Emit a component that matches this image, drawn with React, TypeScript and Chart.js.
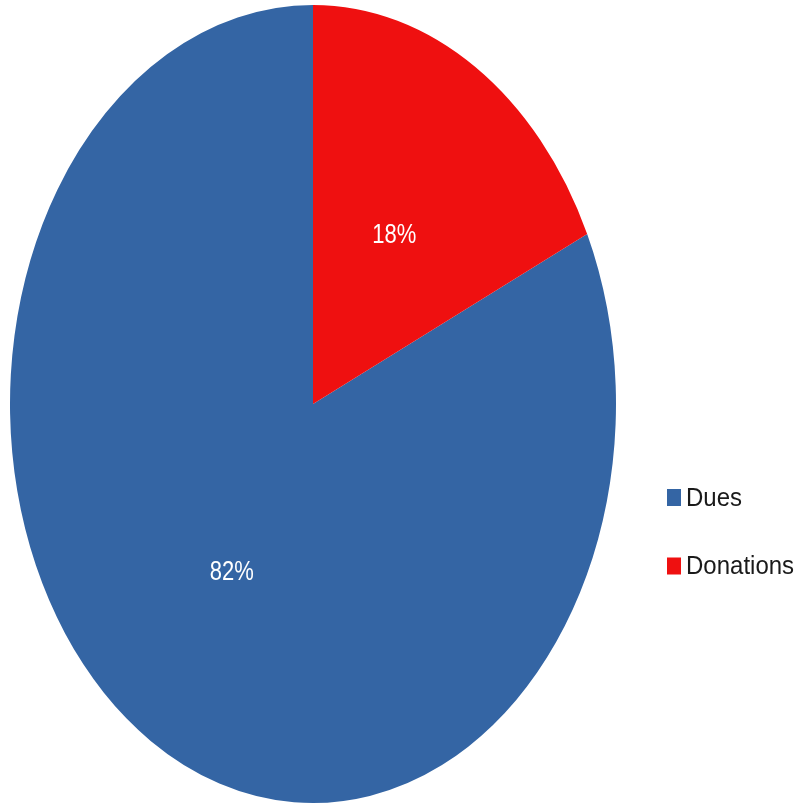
import React, { useEffect, useRef } from "react";
import { Chart, registerables } from "chart.js";

Chart.register(...registerables);

const categories = ["Dues", "Donations"];
const values = [82, 18];
const colors = ["#3465a4", "#ef1010"];
const valueLabels = ["82%", "18%"];

const K = 1.317; // vertical stretch of the pie

const ellipsePlugin = {
  id: "ellipsePie",
  beforeDatasetsDraw(chart: any) {
    const arc = chart.getDatasetMeta(0).data[0];
    if (!arc) return;
    const ctx = chart.ctx;
    ctx.save();
    ctx.translate(arc.x, arc.y);
    ctx.scale(1, K);
    ctx.translate(-arc.x, -arc.y);
  },
  afterDatasetsDraw(chart: any) {
    const ctx = chart.ctx;
    ctx.restore();
    const meta = chart.getDatasetMeta(0);
    // value labels
    meta.data.forEach((arc: any, i: number) => {
      const mid = (arc.startAngle + arc.endAngle) / 2;
      const r = arc.outerRadius * 0.5;
      const x = arc.x + Math.cos(mid) * r;
      const y = arc.y + Math.sin(mid) * r * K;
      ctx.save();
      ctx.translate(x, y);
      ctx.scale(1, 1.25);
      ctx.fillStyle = "#ffffff";
      ctx.font = "22px 'Liberation Sans'";
      ctx.textAlign = "center";
      ctx.textBaseline = "middle";
      ctx.fillText(valueLabels[i], 0, 0);
      ctx.restore();
    });
    // legend
    const labels = chart.data.labels as string[];
    labels.forEach((lab: string, i: number) => {
      const cy = 497.5 + i * 68.5;
      ctx.save();
      ctx.fillStyle = colors[i];
      ctx.fillRect(667, cy - 8.5, 14, 17);
      ctx.translate(686, cy + 1);
      ctx.scale(1, 1.1);
      ctx.fillStyle = "#1a1a1a";
      ctx.font = "24px 'Liberation Sans'";
      ctx.textAlign = "left";
      ctx.textBaseline = "middle";
      ctx.fillText(lab, 0, 0);
      ctx.restore();
    });
  },
};

export default function App() {
  const ref = useRef<HTMLCanvasElement>(null);
  useEffect(() => {
    if (!ref.current) return;
    const donationShare = values[1] / values.reduce((a, b) => a + b, 0);
    const chart = new Chart(ref.current, {
      type: "pie",
      data: {
        labels: categories,
        datasets: [
          {
            data: values,
            backgroundColor: colors,
            borderWidth: 0,
          },
        ],
      },
      options: {
        responsive: false,
        animation: false,
        devicePixelRatio: 1,
        rotation: donationShare * 360,
        events: [],
        layout: { padding: { left: 10, right: 183, top: 101, bottom: 97 } },
        plugins: {
          legend: { display: false },
          tooltip: { enabled: false },
        },
      },
      plugins: [ellipsePlugin],
    });
    return () => chart.destroy();
  }, []);
  return (
    <div style={{ position: "absolute", left: 0, top: 0, width: 799, height: 804, background: "#fff" }}>
      <canvas ref={ref} width={799} height={804} style={{ width: 799, height: 804, display: "block" }} />
    </div>
  );
}
